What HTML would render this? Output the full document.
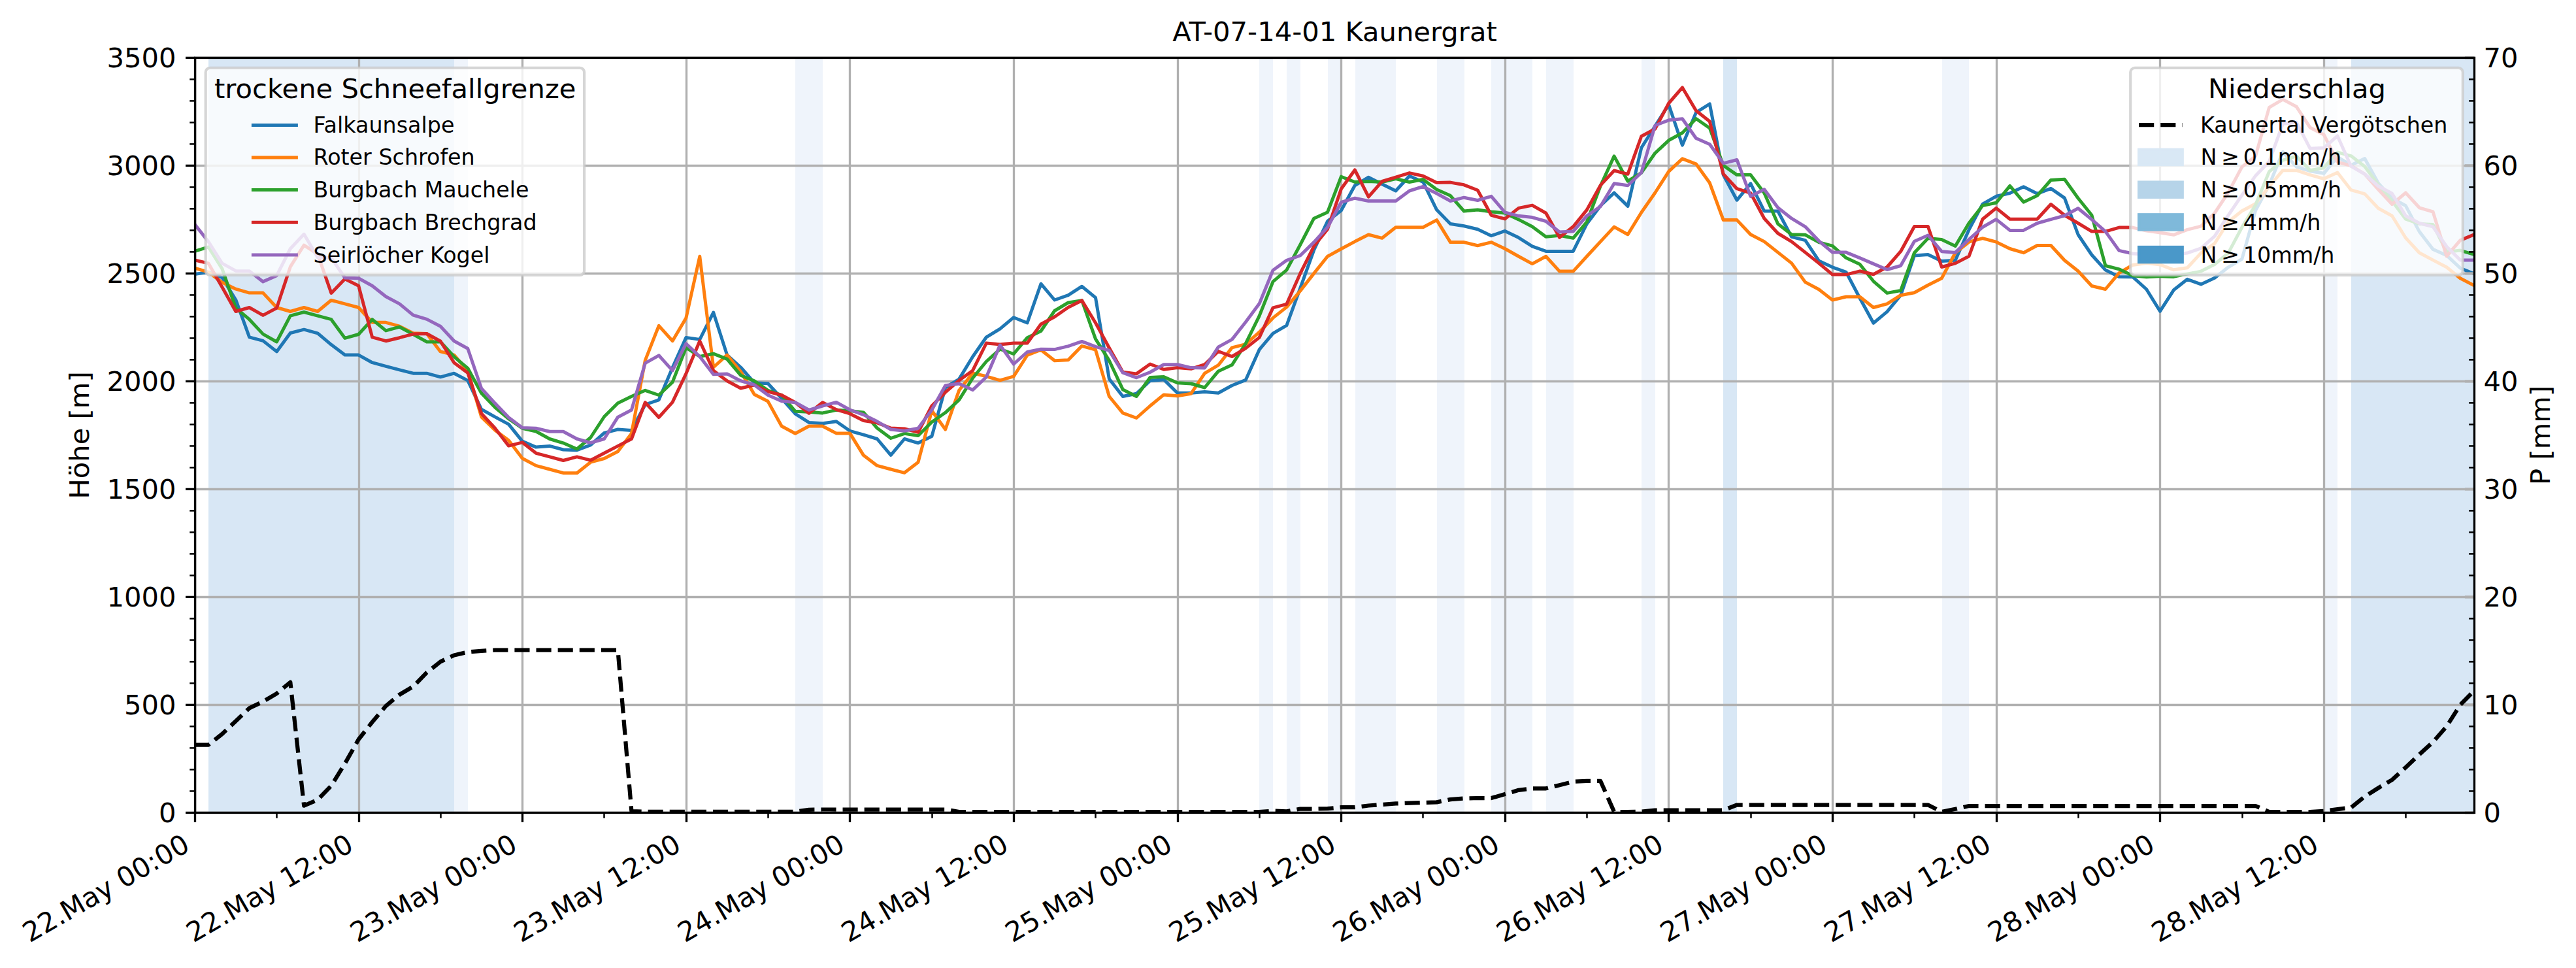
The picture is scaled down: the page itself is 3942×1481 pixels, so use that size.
<!DOCTYPE html>
<html><head><meta charset="utf-8"><title>AT-07-14-01 Kaunergrat</title>
<style>html,body{margin:0;padding:0;background:#fff}svg{display:block}</style></head>
<body>
<svg width="3942" height="1481" viewBox="0 0 3942 1481" font-family="DejaVu Sans, Liberation Sans, sans-serif">
<rect width="3942" height="1481" fill="#fff"/>
<clipPath id="ax"><rect x="298.6" y="88.4" width="3487.9" height="1155.0"/></clipPath>
<g clip-path="url(#ax)">
<rect x="319" y="88.4" width="376" height="1155.0" fill="#d8e7f5"/>
<rect x="2637" y="88.4" width="21" height="1155.0" fill="#d8e7f5"/>
<rect x="3598" y="88.4" width="188" height="1155.0" fill="#d8e7f5"/>
<rect x="695" y="88.4" width="21" height="1155.0" fill="#eff4fb"/>
<rect x="1217" y="88.4" width="42" height="1155.0" fill="#eff4fb"/>
<rect x="1927" y="88.4" width="21" height="1155.0" fill="#eff4fb"/>
<rect x="1969" y="88.4" width="21" height="1155.0" fill="#eff4fb"/>
<rect x="2032" y="88.4" width="21" height="1155.0" fill="#eff4fb"/>
<rect x="2074" y="88.4" width="62" height="1155.0" fill="#eff4fb"/>
<rect x="2199" y="88.4" width="42" height="1155.0" fill="#eff4fb"/>
<rect x="2282" y="88.4" width="63" height="1155.0" fill="#eff4fb"/>
<rect x="2366" y="88.4" width="42" height="1155.0" fill="#eff4fb"/>
<rect x="2512" y="88.4" width="21" height="1155.0" fill="#eff4fb"/>
<rect x="2972" y="88.4" width="41" height="1155.0" fill="#eff4fb"/>
<rect x="3556" y="88.4" width="21" height="1155.0" fill="#eff4fb"/>
</g>
<g stroke="#b0b0b0" stroke-width="3.33">
<line x1="298.50" y1="88.4" x2="298.50" y2="1243.4"/>
<line x1="549.50" y1="88.4" x2="549.50" y2="1243.4"/>
<line x1="799.50" y1="88.4" x2="799.50" y2="1243.4"/>
<line x1="1050.50" y1="88.4" x2="1050.50" y2="1243.4"/>
<line x1="1300.50" y1="88.4" x2="1300.50" y2="1243.4"/>
<line x1="1551.50" y1="88.4" x2="1551.50" y2="1243.4"/>
<line x1="1802.50" y1="88.4" x2="1802.50" y2="1243.4"/>
<line x1="2052.50" y1="88.4" x2="2052.50" y2="1243.4"/>
<line x1="2303.50" y1="88.4" x2="2303.50" y2="1243.4"/>
<line x1="2553.50" y1="88.4" x2="2553.50" y2="1243.4"/>
<line x1="2804.50" y1="88.4" x2="2804.50" y2="1243.4"/>
<line x1="3055.50" y1="88.4" x2="3055.50" y2="1243.4"/>
<line x1="3305.50" y1="88.4" x2="3305.50" y2="1243.4"/>
<line x1="3556.50" y1="88.4" x2="3556.50" y2="1243.4"/>
<line x1="298.6" y1="1243.50" x2="3786.5" y2="1243.50"/>
<line x1="298.6" y1="1078.50" x2="3786.5" y2="1078.50"/>
<line x1="298.6" y1="913.50" x2="3786.5" y2="913.50"/>
<line x1="298.6" y1="748.50" x2="3786.5" y2="748.50"/>
<line x1="298.6" y1="583.50" x2="3786.5" y2="583.50"/>
<line x1="298.6" y1="418.50" x2="3786.5" y2="418.50"/>
<line x1="298.6" y1="253.50" x2="3786.5" y2="253.50"/>
<line x1="298.6" y1="88.50" x2="3786.5" y2="88.50"/>
</g>
<g clip-path="url(#ax)" fill="none" stroke-width="5" stroke-linejoin="round" stroke-linecap="square">
<polyline stroke="#1f77b4" points="298.1,419.4 319.0,416.4 339.9,424.7 360.8,458.7 381.6,515.8 402.5,521.4 423.4,537.9 444.3,509.5 465.2,504.2 486.1,509.8 506.9,527.3 527.8,543.1 548.7,543.1 569.6,554.7 590.5,560.3 611.4,565.9 632.3,571.2 653.1,571.2 674.0,576.8 694.9,571.2 715.8,582.1 736.7,626.3 757.6,637.9 778.4,649.1 799.3,675.1 820.2,684.1 841.1,682.4 862.0,688.0 882.9,688.7 903.7,680.8 924.6,662.3 945.5,657.0 966.4,658.6 987.3,619.0 1008.2,611.8 1029.1,562.6 1049.9,516.4 1070.8,519.4 1091.7,478.1 1112.6,543.1 1133.5,562.0 1154.4,585.7 1175.2,586.7 1196.1,609.5 1217.0,633.2 1237.9,646.4 1258.8,647.8 1279.7,644.8 1300.6,659.3 1321.4,665.2 1342.3,671.5 1363.2,696.3 1384.1,671.5 1405.0,677.8 1425.9,667.6 1446.7,593.0 1467.6,580.1 1488.5,545.8 1509.4,515.8 1530.3,503.2 1551.2,485.7 1572.0,494.0 1592.9,434.2 1613.8,459.0 1634.7,451.7 1655.6,438.2 1676.5,455.4 1697.4,579.8 1718.2,606.5 1739.1,602.2 1760.0,582.4 1780.9,580.8 1801.8,601.2 1822.7,601.2 1843.5,599.6 1864.4,601.2 1885.3,589.7 1906.2,581.4 1927.1,534.9 1948.0,510.1 1968.9,497.9 1989.7,440.8 2010.6,382.8 2031.5,338.5 2052.4,322.0 2073.3,283.8 2094.2,271.2 2115.0,281.8 2135.9,292.0 2156.8,269.2 2177.7,278.5 2198.6,321.1 2219.5,342.5 2240.3,345.8 2261.2,350.8 2282.1,360.7 2303.0,353.4 2323.9,363.6 2344.8,376.8 2365.7,384.4 2386.5,384.4 2407.4,384.4 2428.3,342.5 2449.2,314.8 2470.1,295.0 2491.0,315.4 2511.8,226.0 2532.7,193.0 2553.6,160.0 2574.5,222.1 2595.4,172.2 2616.3,159.0 2637.2,267.6 2658.0,306.2 2678.9,280.8 2699.8,323.0 2720.7,323.0 2741.6,362.3 2762.5,367.6 2783.3,398.9 2804.2,408.8 2825.1,416.4 2846.0,456.0 2866.9,494.3 2887.8,476.8 2908.6,451.7 2929.5,391.0 2950.4,389.4 2971.3,399.6 2992.2,398.3 3013.1,351.4 3034.0,312.1 3054.8,300.3 3075.7,295.6 3096.6,285.7 3117.5,296.3 3138.4,288.4 3159.3,302.9 3180.1,359.0 3201.0,390.0 3221.9,413.1 3242.8,423.4 3263.7,423.7 3284.6,442.5 3305.5,476.2 3326.3,443.8 3347.2,427.3 3368.1,434.9 3389.0,425.3 3409.9,408.8 3430.8,396.3 3451.6,322.0 3472.5,283.1 3493.4,232.3 3514.3,255.4 3535.2,261.7 3556.1,265.3 3577.0,240.2 3597.8,252.7 3618.7,242.5 3639.6,280.5 3660.5,303.2 3681.4,314.8 3702.3,354.4 3723.1,381.4 3744.0,390.7 3764.9,410.2 3785.8,418.7"/>
<polyline stroke="#ff7f0e" points="298.1,410.2 319.0,416.4 339.9,431.9 360.8,442.2 381.6,448.1 402.5,448.1 423.4,470.5 444.3,476.5 465.2,470.5 486.1,476.5 506.9,459.3 527.8,464.9 548.7,470.5 569.6,493.3 590.5,493.3 611.4,499.2 632.3,509.8 653.1,510.5 674.0,537.9 694.9,543.1 715.8,567.6 736.7,637.9 757.6,658.3 778.4,673.8 799.3,701.2 820.2,712.4 841.1,718.0 862.0,723.7 882.9,723.7 903.7,707.2 924.6,701.5 945.5,690.7 966.4,663.3 987.3,551.4 1008.2,498.3 1029.1,521.7 1049.9,486.4 1070.8,392.3 1091.7,562.0 1112.6,543.1 1133.5,568.6 1154.4,603.5 1175.2,614.1 1196.1,652.0 1217.0,663.3 1237.9,652.0 1258.8,652.0 1279.7,662.9 1300.6,662.9 1321.4,696.6 1342.3,712.4 1363.2,718.0 1384.1,723.3 1405.0,707.2 1425.9,628.3 1446.7,657.0 1467.6,597.3 1488.5,570.9 1509.4,575.8 1530.3,581.8 1551.2,575.8 1572.0,543.5 1592.9,535.2 1613.8,551.7 1634.7,550.7 1655.6,529.3 1676.5,535.2 1697.4,606.5 1718.2,631.9 1739.1,639.5 1760.0,621.0 1780.9,603.9 1801.8,605.8 1822.7,602.2 1843.5,571.2 1864.4,558.7 1885.3,531.9 1906.2,526.6 1927.1,508.2 1948.0,486.4 1968.9,469.9 1989.7,445.1 2010.6,418.4 2031.5,392.3 2052.4,380.8 2073.3,369.6 2094.2,359.0 2115.0,364.3 2135.9,347.8 2156.8,347.8 2177.7,347.8 2198.6,336.6 2219.5,370.6 2240.3,370.6 2261.2,375.8 2282.1,370.6 2303.0,380.5 2323.9,392.3 2344.8,403.6 2365.7,392.3 2386.5,415.1 2407.4,415.1 2428.3,392.3 2449.2,369.6 2470.1,347.1 2491.0,358.7 2511.8,325.0 2532.7,295.0 2553.6,262.3 2574.5,242.8 2595.4,250.8 2616.3,279.8 2637.2,336.6 2658.0,336.6 2678.9,358.7 2699.8,369.6 2720.7,386.1 2741.6,402.6 2762.5,431.6 2783.3,442.8 2804.2,459.0 2825.1,454.0 2846.0,454.0 2866.9,470.5 2887.8,464.9 2908.6,451.7 2929.5,447.8 2950.4,436.2 2971.3,425.7 2992.2,386.7 3013.1,370.2 3034.0,364.6 3054.8,370.2 3075.7,380.5 3096.6,386.7 3117.5,375.5 3138.4,375.5 3159.3,398.3 3180.1,414.8 3201.0,437.5 3221.9,442.5 3242.8,417.7 3263.7,405.5 3284.6,402.6 3305.5,404.9 3326.3,412.8 3347.2,409.8 3368.1,387.1 3389.0,372.5 3409.9,339.5 3430.8,322.7 3451.6,311.8 3472.5,285.4 3493.4,260.7 3514.3,260.7 3535.2,267.6 3556.1,273.5 3577.0,264.0 3597.8,290.7 3618.7,296.6 3639.6,318.7 3660.5,330.3 3681.4,364.0 3702.3,386.7 3723.1,397.9 3744.0,408.8 3764.9,425.7 3785.8,436.6"/>
<polyline stroke="#2ca02c" points="298.1,384.4 319.0,377.8 339.9,411.1 360.8,471.2 381.6,488.7 402.5,511.1 423.4,523.0 444.3,483.1 465.2,477.5 486.1,483.1 506.9,488.7 527.8,517.4 548.7,511.5 569.6,488.7 590.5,505.9 611.4,500.2 632.3,511.5 653.1,523.0 674.0,523.0 694.9,545.8 715.8,563.3 736.7,601.6 757.6,623.3 778.4,640.8 799.3,655.3 820.2,660.0 841.1,671.5 862.0,677.8 882.9,687.0 903.7,669.5 924.6,637.5 945.5,616.7 966.4,606.5 987.3,597.3 1008.2,604.5 1029.1,584.7 1049.9,531.9 1070.8,545.5 1091.7,541.2 1112.6,549.4 1133.5,574.2 1154.4,582.7 1175.2,597.3 1196.1,604.5 1217.0,629.3 1237.9,630.3 1258.8,631.9 1279.7,627.3 1300.6,628.6 1321.4,630.9 1342.3,655.0 1363.2,670.5 1384.1,663.3 1405.0,666.6 1425.9,645.8 1446.7,631.3 1467.6,611.8 1488.5,578.5 1509.4,553.0 1530.3,534.2 1551.2,541.5 1572.0,516.7 1592.9,506.5 1613.8,475.5 1634.7,463.0 1655.6,459.7 1676.5,518.7 1697.4,551.7 1718.2,595.9 1739.1,606.5 1760.0,577.5 1780.9,576.5 1801.8,585.7 1822.7,587.0 1843.5,593.0 1864.4,567.9 1885.3,558.3 1906.2,525.7 1927.1,483.4 1948.0,430.9 1968.9,413.1 1989.7,374.5 2010.6,334.2 2031.5,324.7 2052.4,270.2 2073.3,278.5 2094.2,277.5 2115.0,278.5 2135.9,273.5 2156.8,278.5 2177.7,274.5 2198.6,290.0 2219.5,299.3 2240.3,323.0 2261.2,321.1 2282.1,324.0 2303.0,326.0 2323.9,335.9 2344.8,346.8 2365.7,362.3 2386.5,360.3 2407.4,364.3 2428.3,339.5 2449.2,284.4 2470.1,238.9 2491.0,277.2 2511.8,264.3 2532.7,234.3 2553.6,214.8 2574.5,203.2 2595.4,181.5 2616.3,196.0 2637.2,253.1 2658.0,267.6 2678.9,267.6 2699.8,295.3 2720.7,342.5 2741.6,358.7 2762.5,359.3 2783.3,370.6 2804.2,376.2 2825.1,394.6 2846.0,404.2 2866.9,430.3 2887.8,448.4 2908.6,444.5 2929.5,386.7 2950.4,364.6 2971.3,366.6 2992.2,376.5 3013.1,341.2 3034.0,314.5 3054.8,310.2 3075.7,284.4 3096.6,309.2 3117.5,299.3 3138.4,275.5 3159.3,274.2 3180.1,303.2 3201.0,329.3 3221.9,406.5 3242.8,411.8 3263.7,421.7 3284.6,423.7 3305.5,422.7 3326.3,423.4 3347.2,419.1 3368.1,415.1 3389.0,404.5 3409.9,387.1 3430.8,347.8 3451.6,313.5 3472.5,262.6 3493.4,245.2 3514.3,238.9 3535.2,260.7 3556.1,256.7 3577.0,232.9 3597.8,238.6 3618.7,254.7 3639.6,282.8 3660.5,307.5 3681.4,335.2 3702.3,342.5 3723.1,343.5 3744.0,385.4 3764.9,383.1 3785.8,389.4"/>
<polyline stroke="#d62728" points="298.1,397.9 319.0,402.9 339.9,439.2 360.8,476.5 381.6,470.5 402.5,482.4 423.4,471.2 444.3,408.2 465.2,375.2 486.1,388.7 506.9,448.4 527.8,426.7 548.7,437.2 569.6,515.8 590.5,521.7 611.4,516.7 632.3,511.1 653.1,510.5 674.0,522.0 694.9,555.0 715.8,570.5 736.7,632.6 757.6,655.3 778.4,682.1 799.3,676.8 820.2,693.3 841.1,698.9 862.0,704.5 882.9,698.9 903.7,704.2 924.6,693.3 945.5,682.4 966.4,671.5 987.3,615.7 1008.2,638.5 1029.1,615.4 1049.9,571.5 1070.8,521.7 1091.7,566.9 1112.6,582.7 1133.5,594.0 1154.4,589.0 1175.2,599.2 1196.1,604.5 1217.0,615.7 1237.9,632.2 1258.8,615.7 1279.7,626.6 1300.6,632.9 1321.4,643.5 1342.3,646.8 1363.2,655.0 1384.1,656.0 1405.0,661.3 1425.9,621.0 1446.7,600.2 1467.6,582.1 1488.5,566.9 1509.4,525.0 1530.3,527.0 1551.2,525.0 1572.0,525.0 1592.9,496.0 1613.8,484.7 1634.7,470.2 1655.6,459.7 1676.5,494.0 1697.4,532.3 1718.2,569.2 1739.1,571.9 1760.0,557.0 1780.9,565.3 1801.8,562.6 1822.7,564.3 1843.5,557.7 1864.4,537.5 1885.3,545.5 1906.2,532.9 1927.1,516.4 1948.0,470.9 1968.9,465.3 1989.7,418.4 2010.6,376.8 2031.5,350.8 2052.4,289.0 2073.3,260.0 2094.2,301.2 2115.0,277.5 2135.9,271.2 2156.8,264.6 2177.7,269.2 2198.6,279.5 2219.5,279.1 2240.3,282.8 2261.2,291.0 2282.1,329.3 2303.0,334.9 2323.9,318.4 2344.8,314.1 2365.7,326.0 2386.5,363.3 2407.4,346.8 2428.3,321.1 2449.2,283.4 2470.1,261.0 2491.0,266.3 2511.8,208.5 2532.7,197.3 2553.6,158.0 2574.5,133.9 2595.4,169.2 2616.3,185.8 2637.2,266.3 2658.0,288.7 2678.9,295.3 2699.8,334.2 2720.7,357.0 2741.6,369.6 2762.5,386.1 2783.3,402.6 2804.2,420.1 2825.1,420.1 2846.0,414.8 2866.9,419.7 2887.8,408.5 2908.6,384.7 2929.5,346.5 2950.4,346.5 2971.3,408.5 2992.2,402.9 3013.1,392.0 3034.0,335.2 3054.8,318.4 3075.7,335.2 3096.6,335.2 3117.5,335.2 3138.4,312.5 3159.3,329.3 3180.1,341.5 3201.0,354.1 3221.9,354.1 3242.8,348.1 3263.7,348.1 3284.6,353.1 3305.5,356.0 3326.3,359.3 3347.2,351.4 3368.1,346.1 3389.0,326.0 3409.9,294.7 3430.8,255.4 3451.6,238.9 3472.5,164.3 3493.4,152.1 3514.3,163.3 3535.2,195.3 3556.1,205.9 3577.0,247.8 3597.8,253.7 3618.7,266.3 3639.6,290.0 3660.5,312.5 3681.4,295.0 3702.3,317.8 3723.1,324.0 3744.0,392.0 3764.9,367.6 3785.8,359.0"/>
<polyline stroke="#9467bd" points="298.1,343.2 319.0,369.9 339.9,402.9 360.8,414.4 381.6,414.8 402.5,430.9 423.4,421.7 444.3,380.5 465.2,358.3 486.1,393.7 506.9,394.6 527.8,425.0 548.7,425.7 569.6,437.2 590.5,453.7 611.4,464.9 632.3,482.1 653.1,488.4 674.0,499.2 694.9,521.7 715.8,533.2 736.7,594.3 757.6,617.1 778.4,638.8 799.3,654.4 820.2,655.3 841.1,660.3 862.0,660.3 882.9,671.5 903.7,677.5 924.6,671.5 945.5,638.2 966.4,627.3 987.3,555.7 1008.2,543.8 1029.1,566.9 1049.9,525.7 1070.8,545.5 1091.7,572.8 1112.6,571.9 1133.5,582.7 1154.4,589.0 1175.2,604.5 1196.1,613.8 1217.0,615.7 1237.9,627.3 1258.8,621.0 1279.7,615.4 1300.6,627.0 1321.4,634.6 1342.3,644.8 1363.2,657.0 1384.1,659.3 1405.0,655.3 1425.9,627.3 1446.7,589.7 1467.6,587.0 1488.5,596.6 1509.4,576.8 1530.3,528.0 1551.2,557.0 1572.0,538.5 1592.9,534.2 1613.8,534.6 1634.7,529.6 1655.6,522.4 1676.5,530.3 1697.4,536.2 1718.2,570.2 1739.1,577.8 1760.0,569.5 1780.9,557.7 1801.8,557.7 1822.7,562.6 1843.5,562.9 1864.4,530.9 1885.3,519.4 1906.2,492.7 1927.1,464.6 1948.0,413.5 1968.9,398.3 1989.7,391.0 2010.6,370.6 2031.5,347.8 2052.4,309.5 2073.3,303.2 2094.2,307.5 2115.0,307.5 2135.9,307.5 2156.8,292.0 2177.7,285.4 2198.6,296.0 2219.5,307.5 2240.3,302.2 2261.2,306.5 2282.1,300.3 2303.0,325.0 2323.9,330.3 2344.8,332.6 2365.7,338.5 2386.5,355.0 2407.4,354.1 2428.3,330.3 2449.2,315.8 2470.1,280.8 2491.0,283.8 2511.8,264.0 2532.7,192.0 2553.6,183.8 2574.5,181.8 2595.4,211.5 2616.3,220.7 2637.2,249.8 2658.0,244.5 2678.9,300.3 2699.8,289.7 2720.7,317.8 2741.6,334.2 2762.5,346.8 2783.3,368.6 2804.2,386.1 2825.1,386.1 2846.0,394.6 2866.9,403.6 2887.8,412.5 2908.6,406.5 2929.5,369.2 2950.4,360.0 2971.3,384.7 2992.2,386.4 3013.1,366.3 3034.0,347.5 3054.8,335.6 3075.7,352.4 3096.6,352.4 3117.5,341.5 3138.4,335.6 3159.3,330.0 3180.1,318.7 3201.0,335.9 3221.9,354.1 3242.8,383.4 3263.7,388.0 3284.6,389.4 3305.5,390.0 3326.3,389.4 3347.2,387.1 3368.1,379.8 3389.0,361.3 3409.9,329.3 3430.8,298.6 3451.6,268.9 3472.5,247.1 3493.4,189.4 3514.3,187.1 3535.2,227.3 3556.1,226.3 3577.0,207.9 3597.8,254.4 3618.7,266.3 3639.6,284.8 3660.5,296.0 3681.4,330.3 3702.3,341.5 3723.1,346.8 3744.0,377.2 3764.9,397.9 3785.8,397.9"/>
</g>
<g stroke="#000">
<line x1="284.02" y1="1243.40" x2="298.6" y2="1243.40" stroke-width="3.33"/>
<line x1="290.27" y1="1210.40" x2="298.6" y2="1210.40" stroke-width="2.5"/>
<line x1="290.27" y1="1177.40" x2="298.6" y2="1177.40" stroke-width="2.5"/>
<line x1="290.27" y1="1144.40" x2="298.6" y2="1144.40" stroke-width="2.5"/>
<line x1="290.27" y1="1111.40" x2="298.6" y2="1111.40" stroke-width="2.5"/>
<line x1="284.02" y1="1078.40" x2="298.6" y2="1078.40" stroke-width="3.33"/>
<line x1="290.27" y1="1045.40" x2="298.6" y2="1045.40" stroke-width="2.5"/>
<line x1="290.27" y1="1012.40" x2="298.6" y2="1012.40" stroke-width="2.5"/>
<line x1="290.27" y1="979.40" x2="298.6" y2="979.40" stroke-width="2.5"/>
<line x1="290.27" y1="946.40" x2="298.6" y2="946.40" stroke-width="2.5"/>
<line x1="284.02" y1="913.40" x2="298.6" y2="913.40" stroke-width="3.33"/>
<line x1="290.27" y1="880.40" x2="298.6" y2="880.40" stroke-width="2.5"/>
<line x1="290.27" y1="847.40" x2="298.6" y2="847.40" stroke-width="2.5"/>
<line x1="290.27" y1="814.40" x2="298.6" y2="814.40" stroke-width="2.5"/>
<line x1="290.27" y1="781.40" x2="298.6" y2="781.40" stroke-width="2.5"/>
<line x1="284.02" y1="748.40" x2="298.6" y2="748.40" stroke-width="3.33"/>
<line x1="290.27" y1="715.40" x2="298.6" y2="715.40" stroke-width="2.5"/>
<line x1="290.27" y1="682.40" x2="298.6" y2="682.40" stroke-width="2.5"/>
<line x1="290.27" y1="649.40" x2="298.6" y2="649.40" stroke-width="2.5"/>
<line x1="290.27" y1="616.40" x2="298.6" y2="616.40" stroke-width="2.5"/>
<line x1="284.02" y1="583.40" x2="298.6" y2="583.40" stroke-width="3.33"/>
<line x1="290.27" y1="550.40" x2="298.6" y2="550.40" stroke-width="2.5"/>
<line x1="290.27" y1="517.40" x2="298.6" y2="517.40" stroke-width="2.5"/>
<line x1="290.27" y1="484.40" x2="298.6" y2="484.40" stroke-width="2.5"/>
<line x1="290.27" y1="451.40" x2="298.6" y2="451.40" stroke-width="2.5"/>
<line x1="284.02" y1="418.40" x2="298.6" y2="418.40" stroke-width="3.33"/>
<line x1="290.27" y1="385.40" x2="298.6" y2="385.40" stroke-width="2.5"/>
<line x1="290.27" y1="352.40" x2="298.6" y2="352.40" stroke-width="2.5"/>
<line x1="290.27" y1="319.40" x2="298.6" y2="319.40" stroke-width="2.5"/>
<line x1="290.27" y1="286.40" x2="298.6" y2="286.40" stroke-width="2.5"/>
<line x1="284.02" y1="253.40" x2="298.6" y2="253.40" stroke-width="3.33"/>
<line x1="290.27" y1="220.40" x2="298.6" y2="220.40" stroke-width="2.5"/>
<line x1="290.27" y1="187.40" x2="298.6" y2="187.40" stroke-width="2.5"/>
<line x1="290.27" y1="154.40" x2="298.6" y2="154.40" stroke-width="2.5"/>
<line x1="290.27" y1="121.40" x2="298.6" y2="121.40" stroke-width="2.5"/>
<line x1="284.02" y1="88.40" x2="298.6" y2="88.40" stroke-width="3.33"/>
<line x1="298.50" y1="1243.4" x2="298.50" y2="1257.98" stroke-width="3.33"/>
<line x1="423.50" y1="1243.4" x2="423.50" y2="1251.73" stroke-width="2.5"/>
<line x1="549.50" y1="1243.4" x2="549.50" y2="1257.98" stroke-width="3.33"/>
<line x1="674.50" y1="1243.4" x2="674.50" y2="1251.73" stroke-width="2.5"/>
<line x1="799.50" y1="1243.4" x2="799.50" y2="1257.98" stroke-width="3.33"/>
<line x1="924.50" y1="1243.4" x2="924.50" y2="1251.73" stroke-width="2.5"/>
<line x1="1050.50" y1="1243.4" x2="1050.50" y2="1257.98" stroke-width="3.33"/>
<line x1="1175.50" y1="1243.4" x2="1175.50" y2="1251.73" stroke-width="2.5"/>
<line x1="1300.50" y1="1243.4" x2="1300.50" y2="1257.98" stroke-width="3.33"/>
<line x1="1426.50" y1="1243.4" x2="1426.50" y2="1251.73" stroke-width="2.5"/>
<line x1="1551.50" y1="1243.4" x2="1551.50" y2="1257.98" stroke-width="3.33"/>
<line x1="1676.50" y1="1243.4" x2="1676.50" y2="1251.73" stroke-width="2.5"/>
<line x1="1802.50" y1="1243.4" x2="1802.50" y2="1257.98" stroke-width="3.33"/>
<line x1="1927.50" y1="1243.4" x2="1927.50" y2="1251.73" stroke-width="2.5"/>
<line x1="2052.50" y1="1243.4" x2="2052.50" y2="1257.98" stroke-width="3.33"/>
<line x1="2177.50" y1="1243.4" x2="2177.50" y2="1251.73" stroke-width="2.5"/>
<line x1="2303.50" y1="1243.4" x2="2303.50" y2="1257.98" stroke-width="3.33"/>
<line x1="2428.50" y1="1243.4" x2="2428.50" y2="1251.73" stroke-width="2.5"/>
<line x1="2553.50" y1="1243.4" x2="2553.50" y2="1257.98" stroke-width="3.33"/>
<line x1="2679.50" y1="1243.4" x2="2679.50" y2="1251.73" stroke-width="2.5"/>
<line x1="2804.50" y1="1243.4" x2="2804.50" y2="1257.98" stroke-width="3.33"/>
<line x1="2929.50" y1="1243.4" x2="2929.50" y2="1251.73" stroke-width="2.5"/>
<line x1="3055.50" y1="1243.4" x2="3055.50" y2="1257.98" stroke-width="3.33"/>
<line x1="3180.50" y1="1243.4" x2="3180.50" y2="1251.73" stroke-width="2.5"/>
<line x1="3305.50" y1="1243.4" x2="3305.50" y2="1257.98" stroke-width="3.33"/>
<line x1="3431.50" y1="1243.4" x2="3431.50" y2="1251.73" stroke-width="2.5"/>
<line x1="3556.50" y1="1243.4" x2="3556.50" y2="1257.98" stroke-width="3.33"/>
<line x1="3681.50" y1="1243.4" x2="3681.50" y2="1251.73" stroke-width="2.5"/>
</g>
<rect x="314.70" y="103.80" width="579.40" height="317.10" rx="6.67" ry="6.67" fill="#fff" fill-opacity="0.8" stroke="#ccc" stroke-opacity="0.8" stroke-width="4.17"/>
<text x="328" y="150.0" font-size="41.67">trockene Schneefallgrenze</text>
<line x1="387.4" y1="191.4" x2="453.4" y2="191.4" stroke="#1f77b4" stroke-width="5" stroke-linecap="square"/>
<text x="479.5" y="202.9" font-size="33.33">Falkaunsalpe</text>
<line x1="387.4" y1="240.9" x2="453.4" y2="240.9" stroke="#ff7f0e" stroke-width="5" stroke-linecap="square"/>
<text x="479.5" y="252.4" font-size="33.33">Roter Schrofen</text>
<line x1="387.4" y1="290.59999999999997" x2="453.4" y2="290.59999999999997" stroke="#2ca02c" stroke-width="5" stroke-linecap="square"/>
<text x="479.5" y="302.1" font-size="33.33">Burgbach Mauchele</text>
<line x1="387.4" y1="340.29999999999995" x2="453.4" y2="340.29999999999995" stroke="#d62728" stroke-width="5" stroke-linecap="square"/>
<text x="479.5" y="351.8" font-size="33.33">Burgbach Brechgrad</text>
<line x1="387.4" y1="390.0" x2="453.4" y2="390.0" stroke="#9467bd" stroke-width="5" stroke-linecap="square"/>
<text x="479.5" y="401.5" font-size="33.33">Seirlöcher Kogel</text>
<line x1="3771.92" y1="1243.40" x2="3786.5" y2="1243.40" stroke="#b0b0b0" stroke-width="4.2"/>
<line x1="3778.17" y1="1210.40" x2="3786.5" y2="1210.40" stroke="#000" stroke-width="2.5"/>
<line x1="3778.17" y1="1177.40" x2="3786.5" y2="1177.40" stroke="#000" stroke-width="2.5"/>
<line x1="3778.17" y1="1144.40" x2="3786.5" y2="1144.40" stroke="#000" stroke-width="2.5"/>
<line x1="3778.17" y1="1111.40" x2="3786.5" y2="1111.40" stroke="#000" stroke-width="2.5"/>
<line x1="3771.92" y1="1078.40" x2="3786.5" y2="1078.40" stroke="#b0b0b0" stroke-width="4.2"/>
<line x1="3778.17" y1="1045.40" x2="3786.5" y2="1045.40" stroke="#000" stroke-width="2.5"/>
<line x1="3778.17" y1="1012.40" x2="3786.5" y2="1012.40" stroke="#000" stroke-width="2.5"/>
<line x1="3778.17" y1="979.40" x2="3786.5" y2="979.40" stroke="#000" stroke-width="2.5"/>
<line x1="3778.17" y1="946.40" x2="3786.5" y2="946.40" stroke="#000" stroke-width="2.5"/>
<line x1="3771.92" y1="913.40" x2="3786.5" y2="913.40" stroke="#b0b0b0" stroke-width="4.2"/>
<line x1="3778.17" y1="880.40" x2="3786.5" y2="880.40" stroke="#000" stroke-width="2.5"/>
<line x1="3778.17" y1="847.40" x2="3786.5" y2="847.40" stroke="#000" stroke-width="2.5"/>
<line x1="3778.17" y1="814.40" x2="3786.5" y2="814.40" stroke="#000" stroke-width="2.5"/>
<line x1="3778.17" y1="781.40" x2="3786.5" y2="781.40" stroke="#000" stroke-width="2.5"/>
<line x1="3771.92" y1="748.40" x2="3786.5" y2="748.40" stroke="#b0b0b0" stroke-width="4.2"/>
<line x1="3778.17" y1="715.40" x2="3786.5" y2="715.40" stroke="#000" stroke-width="2.5"/>
<line x1="3778.17" y1="682.40" x2="3786.5" y2="682.40" stroke="#000" stroke-width="2.5"/>
<line x1="3778.17" y1="649.40" x2="3786.5" y2="649.40" stroke="#000" stroke-width="2.5"/>
<line x1="3778.17" y1="616.40" x2="3786.5" y2="616.40" stroke="#000" stroke-width="2.5"/>
<line x1="3771.92" y1="583.40" x2="3786.5" y2="583.40" stroke="#b0b0b0" stroke-width="4.2"/>
<line x1="3778.17" y1="550.40" x2="3786.5" y2="550.40" stroke="#000" stroke-width="2.5"/>
<line x1="3778.17" y1="517.40" x2="3786.5" y2="517.40" stroke="#000" stroke-width="2.5"/>
<line x1="3778.17" y1="484.40" x2="3786.5" y2="484.40" stroke="#000" stroke-width="2.5"/>
<line x1="3778.17" y1="451.40" x2="3786.5" y2="451.40" stroke="#000" stroke-width="2.5"/>
<line x1="3771.92" y1="418.40" x2="3786.5" y2="418.40" stroke="#b0b0b0" stroke-width="4.2"/>
<line x1="3778.17" y1="385.40" x2="3786.5" y2="385.40" stroke="#000" stroke-width="2.5"/>
<line x1="3778.17" y1="352.40" x2="3786.5" y2="352.40" stroke="#000" stroke-width="2.5"/>
<line x1="3778.17" y1="319.40" x2="3786.5" y2="319.40" stroke="#000" stroke-width="2.5"/>
<line x1="3778.17" y1="286.40" x2="3786.5" y2="286.40" stroke="#000" stroke-width="2.5"/>
<line x1="3771.92" y1="253.40" x2="3786.5" y2="253.40" stroke="#b0b0b0" stroke-width="4.2"/>
<line x1="3778.17" y1="220.40" x2="3786.5" y2="220.40" stroke="#000" stroke-width="2.5"/>
<line x1="3778.17" y1="187.40" x2="3786.5" y2="187.40" stroke="#000" stroke-width="2.5"/>
<line x1="3778.17" y1="154.40" x2="3786.5" y2="154.40" stroke="#000" stroke-width="2.5"/>
<line x1="3778.17" y1="121.40" x2="3786.5" y2="121.40" stroke="#000" stroke-width="2.5"/>
<line x1="3771.92" y1="88.40" x2="3786.5" y2="88.40" stroke="#b0b0b0" stroke-width="4.2"/>
<polyline clip-path="url(#ax)" fill="none" stroke="#000" stroke-width="6.25" stroke-linejoin="round" stroke-dasharray="23.125 10" points="298.1,1139.5 319.0,1139.5 339.9,1123.0 360.8,1103.2 381.6,1083.4 402.5,1073.5 423.4,1061.1 444.3,1043.8 465.2,1232.7 486.1,1223.6 506.9,1202.2 527.8,1168.3 548.7,1131.2 569.6,1104.8 590.5,1080.1 611.4,1062.7 632.3,1050.4 653.1,1028.9 674.0,1012.4 694.9,1002.5 715.8,997.6 736.7,995.9 757.6,994.7 778.4,994.7 799.3,994.7 820.2,994.7 841.1,994.7 862.0,994.7 882.9,994.7 903.7,994.7 924.6,994.7 945.5,994.7 966.4,1241.1 987.3,1241.8 1008.2,1241.8 1029.1,1241.8 1049.9,1241.8 1070.8,1241.8 1091.7,1241.8 1112.6,1241.8 1133.5,1241.8 1154.4,1241.8 1175.2,1241.8 1196.1,1241.8 1217.0,1241.8 1237.9,1238.8 1258.8,1238.5 1279.7,1238.5 1300.6,1238.5 1321.4,1238.5 1342.3,1238.5 1363.2,1238.5 1384.1,1238.5 1405.0,1238.5 1425.9,1238.5 1446.7,1238.5 1467.6,1242.1 1488.5,1242.1 1509.4,1242.1 1530.3,1242.1 1551.2,1242.1 1572.0,1242.1 1592.9,1242.1 1613.8,1242.1 1634.7,1242.1 1655.6,1242.1 1676.5,1242.1 1697.4,1242.1 1718.2,1242.1 1739.1,1242.1 1760.0,1242.1 1780.9,1242.1 1801.8,1242.1 1822.7,1242.1 1843.5,1242.1 1864.4,1242.1 1885.3,1242.1 1906.2,1242.1 1927.1,1242.1 1948.0,1240.6 1968.9,1241.4 1989.7,1237.5 2010.6,1237.5 2031.5,1237.1 2052.4,1235.2 2073.3,1235.2 2094.2,1232.5 2115.0,1230.9 2135.9,1229.4 2156.8,1228.7 2177.7,1228.1 2198.6,1227.4 2219.5,1223.1 2240.3,1221.5 2261.2,1221.0 2282.1,1221.0 2303.0,1215.0 2323.9,1208.8 2344.8,1206.3 2365.7,1206.3 2386.5,1201.2 2407.4,1195.9 2428.3,1194.9 2449.2,1194.9 2470.1,1242.1 2491.0,1242.1 2511.8,1241.8 2532.7,1239.6 2553.6,1239.6 2574.5,1239.6 2595.4,1239.6 2616.3,1239.6 2637.2,1239.6 2658.0,1231.5 2678.9,1231.5 2699.8,1231.5 2720.7,1231.5 2741.6,1231.5 2762.5,1231.5 2783.3,1231.5 2804.2,1231.5 2825.1,1231.5 2846.0,1231.5 2866.9,1231.5 2887.8,1231.5 2908.6,1231.5 2929.5,1231.5 2950.4,1231.5 2971.3,1242.1 2992.2,1237.8 3013.1,1233.0 3034.0,1233.0 3054.8,1233.0 3075.7,1233.0 3096.6,1233.0 3117.5,1233.0 3138.4,1233.0 3159.3,1233.0 3180.1,1233.0 3201.0,1233.0 3221.9,1233.0 3242.8,1233.0 3263.7,1233.0 3284.6,1233.0 3305.5,1233.0 3326.3,1233.0 3347.2,1233.0 3368.1,1233.0 3389.0,1233.0 3409.9,1233.0 3430.8,1233.0 3451.6,1233.0 3472.5,1242.1 3493.4,1242.1 3514.3,1242.1 3535.2,1242.1 3556.1,1240.9 3577.0,1238.1 3597.8,1235.6 3618.7,1218.7 3639.6,1205.5 3660.5,1193.1 3681.4,1174.1 3702.3,1154.3 3723.1,1135.3 3744.0,1111.4 3764.9,1078.4 3785.8,1057.0"/>
<rect x="298.6" y="88.4" width="3487.9" height="1155.0" fill="none" stroke="#000" stroke-width="3.33"/>
<rect x="3260.20" y="103.90" width="508.60" height="317.00" rx="6.67" ry="6.67" fill="#fff" fill-opacity="0.8" stroke="#ccc" stroke-opacity="0.8" stroke-width="4.17"/>
<text x="3515.0" y="150.4" font-size="41.67" text-anchor="middle">Niederschlag</text>
<line x1="3273.1" y1="191" x2="3339.8" y2="191" stroke="#000" stroke-width="6.25" stroke-dasharray="23.125 10"/>
<text x="3367.1" y="202.9" font-size="33.33">Kaunertal Vergötschen</text>
<rect x="3273.1" y="228.83" width="66.67" height="23.33" fill="#d9e8f5" stroke="#d9e8f5" stroke-width="4.17"/>
<text y="252.4" font-size="33.33"><tspan x="3367.5">N</tspan><tspan x="3399.2">≥</tspan><tspan x="3432.8">0.1mm/h</tspan></text>
<rect x="3273.1" y="278.53" width="66.67" height="23.33" fill="#b6d4e9" stroke="#b6d4e9" stroke-width="4.17"/>
<text y="302.1" font-size="33.33"><tspan x="3367.5">N</tspan><tspan x="3399.2">≥</tspan><tspan x="3432.8">0.5mm/h</tspan></text>
<rect x="3273.1" y="328.23" width="66.67" height="23.33" fill="#7fb9da" stroke="#7fb9da" stroke-width="4.17"/>
<text y="351.8" font-size="33.33"><tspan x="3367.5">N</tspan><tspan x="3399.2">≥</tspan><tspan x="3432.8">4mm/h</tspan></text>
<rect x="3273.1" y="377.93" width="66.67" height="23.33" fill="#4a98c9" stroke="#4a98c9" stroke-width="4.17"/>
<text y="401.5" font-size="33.33"><tspan x="3367.5">N</tspan><tspan x="3399.2">≥</tspan><tspan x="3432.8">10mm/h</tspan></text>
<text x="2042.5" y="63.2" font-size="41.67" text-anchor="middle">AT-07-14-01 Kaunergrat</text>
<text x="269.5" y="1258.1" font-size="41.67" text-anchor="end">0</text>
<text x="269.5" y="1093.1" font-size="41.67" text-anchor="end">500</text>
<text x="269.5" y="928.1" font-size="41.67" text-anchor="end">1000</text>
<text x="269.5" y="763.1" font-size="41.67" text-anchor="end">1500</text>
<text x="269.5" y="598.1" font-size="41.67" text-anchor="end">2000</text>
<text x="269.5" y="433.1" font-size="41.67" text-anchor="end">2500</text>
<text x="269.5" y="268.1" font-size="41.67" text-anchor="end">3000</text>
<text x="269.5" y="103.1" font-size="41.67" text-anchor="end">3500</text>
<text x="3800.4" y="1258.1" font-size="41.67">0</text>
<text x="3800.4" y="1093.1" font-size="41.67">10</text>
<text x="3800.4" y="928.1" font-size="41.67">20</text>
<text x="3800.4" y="763.1" font-size="41.67">30</text>
<text x="3800.4" y="598.1" font-size="41.67">40</text>
<text x="3800.4" y="433.1" font-size="41.67">50</text>
<text x="3800.4" y="268.1" font-size="41.67">60</text>
<text x="3800.4" y="103.1" font-size="41.67">70</text>
<text transform="translate(135.5,665.9) rotate(-90)" font-size="41.67" text-anchor="middle">Höhe [m]</text>
<text transform="translate(3901.6,665.9) rotate(-90)" font-size="41.67" text-anchor="middle">P [mm]</text>
<text transform="translate(292.9,1300) rotate(-30)" font-size="41.67" text-anchor="end">22.May 00:00</text>
<text transform="translate(543.5,1300) rotate(-30)" font-size="41.67" text-anchor="end">22.May 12:00</text>
<text transform="translate(794.1,1300) rotate(-30)" font-size="41.67" text-anchor="end">23.May 00:00</text>
<text transform="translate(1044.7,1300) rotate(-30)" font-size="41.67" text-anchor="end">23.May 12:00</text>
<text transform="translate(1295.4,1300) rotate(-30)" font-size="41.67" text-anchor="end">24.May 00:00</text>
<text transform="translate(1546.0,1300) rotate(-30)" font-size="41.67" text-anchor="end">24.May 12:00</text>
<text transform="translate(1796.6,1300) rotate(-30)" font-size="41.67" text-anchor="end">25.May 00:00</text>
<text transform="translate(2047.2,1300) rotate(-30)" font-size="41.67" text-anchor="end">25.May 12:00</text>
<text transform="translate(2297.8,1300) rotate(-30)" font-size="41.67" text-anchor="end">26.May 00:00</text>
<text transform="translate(2548.4,1300) rotate(-30)" font-size="41.67" text-anchor="end">26.May 12:00</text>
<text transform="translate(2799.0,1300) rotate(-30)" font-size="41.67" text-anchor="end">27.May 00:00</text>
<text transform="translate(3049.6,1300) rotate(-30)" font-size="41.67" text-anchor="end">27.May 12:00</text>
<text transform="translate(3300.3,1300) rotate(-30)" font-size="41.67" text-anchor="end">28.May 00:00</text>
<text transform="translate(3550.9,1300) rotate(-30)" font-size="41.67" text-anchor="end">28.May 12:00</text>
</svg>
</body></html>
